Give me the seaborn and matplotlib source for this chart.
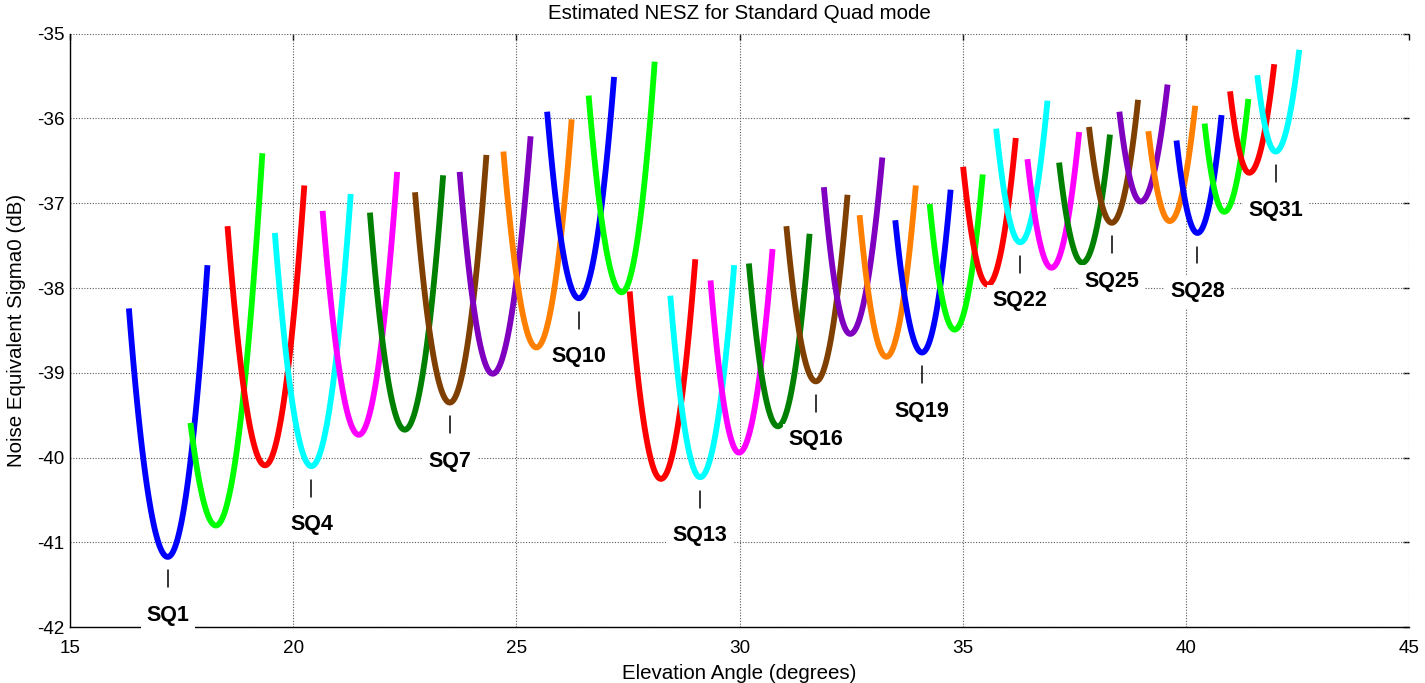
import numpy as np
import pandas as pd
import matplotlib
matplotlib.use("Agg")
import matplotlib.pyplot as plt
from matplotlib.ticker import MultipleLocator
import seaborn as sns

# Beam names (Standard Quad beams SQ1..SQ31)
beams = [f"SQ{i}" for i in range(1, 32)]

# Near-edge point of each beam: elevation angle (deg) and NESZ (dB)
near_angle = [16.32, 17.70, 18.53, 19.59, 20.66, 21.72, 22.73, 23.73, 24.71, 25.69,
              26.62, 27.54, 28.45, 29.35, 30.21, 31.05, 31.89, 32.69, 33.49, 34.26,
              35.01, 35.75, 36.45, 37.16, 37.83, 38.51, 39.16, 39.79, 40.42, 40.99, 41.60]
near_nesz = [-38.24, -39.59, -37.27, -37.35, -37.09, -37.11, -36.87, -36.63, -36.39, -35.92,
             -35.73, -38.04, -38.09, -37.91, -37.71, -37.27, -36.81, -37.14, -37.20, -37.01,
             -36.57, -36.12, -36.48, -36.52, -36.10, -35.92, -36.15, -36.26, -36.06, -35.68, -35.49]

# Beam centre: angle of best (lowest) NESZ and that NESZ
best_angle = [17.19, 18.27, 19.37, 20.41, 21.47, 22.50, 23.51, 24.47, 25.45, 26.40,
              27.36, 28.24, 29.12, 29.99, 30.86, 31.71, 32.48, 33.29, 34.09, 34.82,
              35.56, 36.29, 36.99, 37.68, 38.34, 38.99, 39.64, 40.26, 40.86, 41.42, 42.01]
best_nesz = [-41.17, -40.80, -40.09, -40.10, -39.73, -39.67, -39.35, -39.01, -38.70, -38.12,
             -38.05, -40.25, -40.23, -39.94, -39.63, -39.10, -38.54, -38.81, -38.76, -38.49,
             -37.96, -37.46, -37.76, -37.70, -37.23, -36.98, -37.21, -37.35, -37.10, -36.64, -36.39]

# Far-edge point of each beam
far_angle = [18.08, 19.31, 20.25, 21.29, 22.33, 23.36, 24.33, 25.32, 26.24, 27.19,
             28.10, 29.01, 29.88, 30.74, 31.57, 32.42, 33.20, 33.95, 34.73, 35.45,
             36.19, 36.90, 37.61, 38.30, 38.93, 39.59, 40.21, 40.80, 41.40, 41.98, 42.54]
far_nesz = [-37.73, -36.41, -36.79, -36.89, -36.63, -36.67, -36.43, -36.21, -36.01, -35.51,
            -35.33, -37.66, -37.73, -37.54, -37.36, -36.90, -36.46, -36.79, -36.84, -36.66,
            -36.23, -35.79, -36.16, -36.19, -35.78, -35.60, -35.85, -35.96, -35.77, -35.36, -35.19]

# Beams that carry a name tag below their minimum
tagged_beams = beams[::3]

colour_cycle = ["#0000FF", "#00FF00", "#FF0000", "#00FFFF", "#FF00FF",
                "#008000", "#7F3F00", "#7F00BF", "#FF7F00"]

sns.set_theme(style="white")
plt.rcParams["font.family"] = ["Liberation Sans", "DejaVu Sans"]
plt.rcParams["axes.unicode_minus"] = False


def beam_curve(xa, ya, xm, ym, xb, yb, n=60):
    """Parabolic (in dB) NESZ profile through the two edges and the beam minimum."""
    xl = np.linspace(xa, xm, n)
    yl = ym + (ya - ym) * ((xl - xm) / (xa - xm)) ** 2
    xr = np.linspace(xm, xb, n)[1:]
    yr = ym + (yb - ym) * ((xr - xm) / (xb - xm)) ** 2
    return np.concatenate([xl, xr]), np.concatenate([yl, yr])


frames = []
for i, b in enumerate(beams):
    x, y = beam_curve(near_angle[i], near_nesz[i], best_angle[i], best_nesz[i],
                      far_angle[i], far_nesz[i])
    frames.append(pd.DataFrame({"angle": x, "nesz": y, "beam": b}))
df = pd.concat(frames, ignore_index=True)

palette = [colour_cycle[i % len(colour_cycle)] for i in range(len(beams))]

fig = plt.figure(figsize=(14.25, 6.83), dpi=100)
ax = fig.add_axes([0.0491, 0.0816, 0.9397, 0.8691])

sns.lineplot(data=df, x="angle", y="nesz", hue="beam", hue_order=beams,
             palette=palette, sort=False, estimator=None, legend=False,
             linewidth=4.2, solid_capstyle="butt", ax=ax)

# Name tags: a short marker line under the minimum and the beam name below it
for b in tagged_beams:
    i = beams.index(b)
    xm, ym = best_angle[i], best_nesz[i]
    ax.plot([xm, xm], [ym - 0.16, ym - 0.36], color="black", lw=1.1, zorder=4)
    ax.text(xm, ym - 0.69, b, ha="center", va="center", fontsize=15.5,
            fontweight="bold", color="black", zorder=6, clip_on=False,
            bbox=dict(facecolor="white", edgecolor="none", pad=4))

ax.set_xlim(15, 45)
ax.set_ylim(-42, -35)
ax.xaxis.set_major_locator(MultipleLocator(5))
ax.xaxis.set_minor_locator(MultipleLocator(1))
ax.yaxis.set_major_locator(MultipleLocator(1))
ax.yaxis.set_minor_locator(MultipleLocator(0.5))

ax.grid(True, which="major", linestyle=(0, (1, 1.5)), color="0.35", linewidth=0.8)
ax.set_axisbelow(True)

for side in ("top", "right"):
    ax.spines[side].set_visible(False)
for side in ("left", "bottom"):
    ax.spines[side].set_color("black")
    ax.spines[side].set_linewidth(1.0)

ax.tick_params(axis="both", which="major", direction="in", length=11, width=1.0,
               color="black", labelsize=13.6, labelcolor="black")
ax.tick_params(axis="x", which="major", pad=9)
ax.tick_params(axis="y", which="major", pad=4)
ax.tick_params(axis="both", which="minor", direction="in", length=5, width=1.0,
               color="black")

# Short ticks along the top and right edges
top = ax.secondary_xaxis("top")
top.xaxis.set_major_locator(MultipleLocator(5))
top.tick_params(direction="in", length=4, width=1.0, labeltop=False, color="black")
top.spines["top"].set_visible(False)
right = ax.secondary_yaxis("right")
right.yaxis.set_major_locator(MultipleLocator(1))
right.tick_params(direction="in", length=4, width=1.0, labelright=False, color="black")
right.spines["right"].set_visible(False)

ax.set_xlabel("Elevation Angle (degrees)", fontsize=14.8, color="black", labelpad=5)
ax.set_ylabel("Noise Equivalent Sigma0 (dB)", fontsize=14.8, color="black", labelpad=8)
ax.set_title("Estimated NESZ for Standard Quad mode", fontsize=14.8, color="black", pad=10.5)

fig.savefig("out.png", dpi=100, facecolor="white")
